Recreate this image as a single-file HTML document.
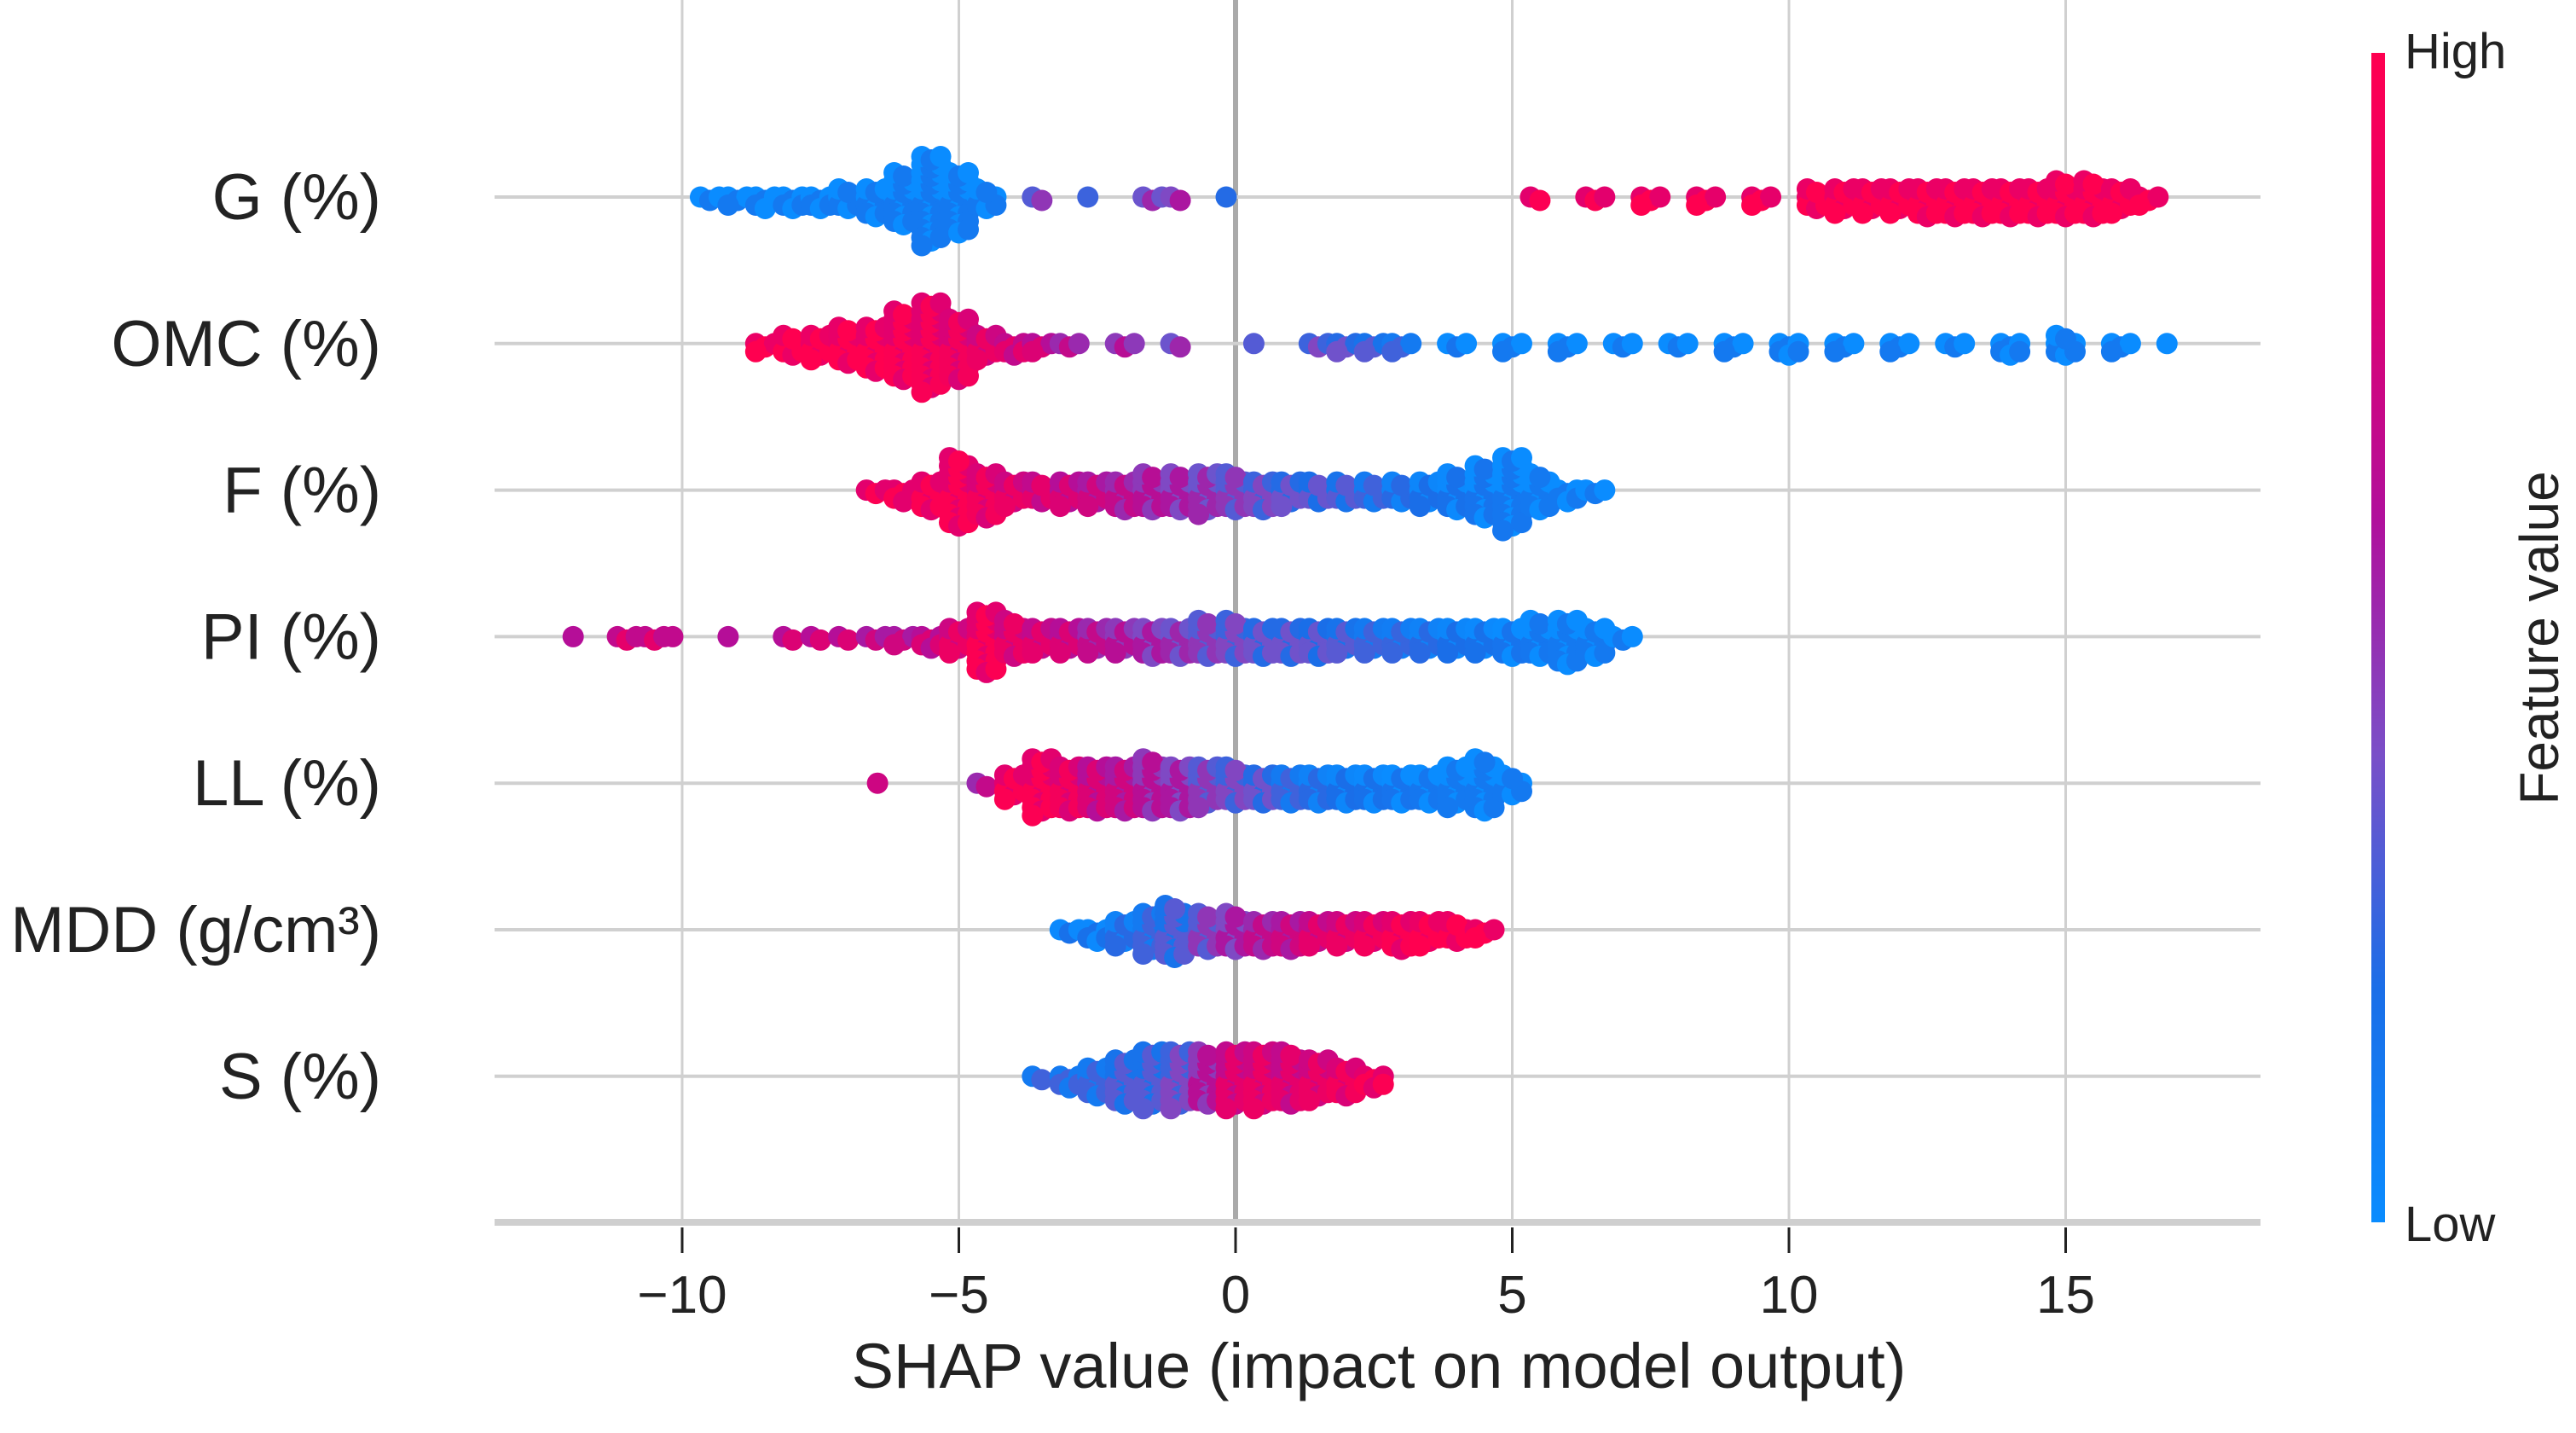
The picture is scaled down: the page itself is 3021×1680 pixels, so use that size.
<!DOCTYPE html>
<html><head><meta charset="utf-8"><style>
html,body{margin:0;padding:0;background:#fff;}
svg{display:block;font-family:"Liberation Sans",Arial,sans-serif;}
</style></head><body>
<svg id="chart" width="3021" height="1680" viewBox="0 0 3021 1680" xmlns="http://www.w3.org/2000/svg">
<defs><linearGradient id="cb" x1="0" y1="1" x2="0" y2="0">
<stop offset="0" stop-color="#0a8cff"/><stop offset="0.2" stop-color="#1a6ee8"/><stop offset="0.4" stop-color="#7a4fc8"/><stop offset="0.6" stop-color="#b0109c"/><stop offset="0.8" stop-color="#e00070"/><stop offset="1" stop-color="#ff0050"/></linearGradient></defs>
<g id="grid"></g>
<g id="dots"></g>
<g id="axes"></g>
<rect x="2781" y="62" width="16" height="1371" fill="url(#cb)"/>
<text x="2820" y="80" font-size="58" fill="#222">High</text>
<text x="2820" y="1455" font-size="58" fill="#222">Low</text>
<text transform="translate(3000,748) rotate(-90)" text-anchor="middle" font-size="64" fill="#222">Feature value</text>
<text x="1617" y="1627" text-anchor="middle" font-size="74" fill="#222">SHAP value (impact on model output)</text>
</svg>
<script>
const features = ["G (%)","OMC (%)","F (%)","PI (%)","LL (%)","MDD (g/cm³)","S (%)"];
const xTicks = [-10,-5,0,5,10,15];
// bins per feature: [shapValue, count, featureValue(0..1)]
const binsG = [[-9.5,3,0.05],[-9,4,0.05],[-8.5,5,0.05],[-8,6,0.05],[-7.5,6,0.05],[-7,8,0.05],[-6.5,12,0.05],[-6,20,0.05],[-5.5,34,0.05],[-5,24,0.05],[-4.5,8,0.05],[-3.5,2,0.4],[-2.5,1,0.35],[-1.5,3,0.45],[-1,2,0.5],[0,1,0.3],[5.5,2,0.9],[6.5,3,0.9],[7.5,4,0.92],[8.5,4,0.92],[9.5,4,0.92],[10.5,8,0.95],[11,10,0.95],[11.5,10,0.95],[12,10,0.95],[12.5,12,0.95],[13,12,0.95],[13.5,12,0.95],[14,12,0.95],[14.5,12,0.95],[15,14,0.95],[15.5,14,0.95],[16,10,0.95],[16.5,4,0.95]];
const binsOMC = [[-8.5,4,0.95],[-8,8,0.95],[-7.5,10,0.95],[-7,14,0.93],[-6.5,18,0.92],[-6,26,0.9],[-5.5,34,0.88],[-5,24,0.85],[-4.5,10,0.8],[-4,6,0.75],[-3.5,4,0.7],[-3,3,0.6],[-2,3,0.55],[-1,2,0.45],[0.5,1,0.4],[1.5,3,0.35],[2,4,0.3],[2.5,4,0.25],[3,4,0.2],[4,3,0.08],[5,4,0.05],[6,4,0.05],[7,3,0.05],[8,3,0.05],[9,4,0.05],[10,6,0.05],[11,4,0.05],[12,4,0.05],[13,3,0.05],[14,6,0.05],[15,8,0.05],[16,4,0.05],[17,1,0.05]];
const binsF = [[-6.5,3,0.9],[-6,5,0.9],[-5.5,12,0.9],[-5,26,0.9],[-4.5,18,0.85],[-4,10,0.8],[-3.5,8,0.75],[-3,10,0.7],[-2.5,10,0.65],[-2,12,0.6],[-1.5,14,0.55],[-1,14,0.5],[-0.5,16,0.45],[0,14,0.4],[0.5,12,0.35],[1,10,0.3],[1.5,8,0.28],[2,8,0.25],[2.5,8,0.2],[3,8,0.15],[3.5,10,0.12],[4,14,0.1],[4.5,20,0.08],[5,28,0.06],[5.5,14,0.05],[6,6,0.05],[6.5,3,0.05]];
const binsPI = [[-11.8,1,0.7],[-11,3,0.75],[-10.5,3,0.75],[-10,1,0.75],[-9,1,0.7],[-8,2,0.7],[-7.5,2,0.7],[-7,2,0.7],[-6.5,3,0.65],[-6,4,0.65],[-5.5,6,0.7],[-5,10,0.8],[-4.5,24,0.9],[-4,14,0.8],[-3.5,10,0.75],[-3,10,0.7],[-2.5,10,0.6],[-2,10,0.55],[-1.5,12,0.5],[-1,12,0.45],[-0.5,14,0.4],[0,14,0.35],[0.5,12,0.3],[1,12,0.3],[1.5,12,0.28],[2,10,0.25],[2.5,10,0.2],[3,10,0.18],[3.5,10,0.15],[4,10,0.12],[4.5,10,0.1],[5,12,0.08],[5.5,14,0.06],[6,18,0.05],[6.5,12,0.05],[7,3,0.05]];
const binsLL = [[-6.3,1,0.8],[-4.5,2,0.6],[-4,10,0.9],[-3.5,22,0.9],[-3,18,0.85],[-2.5,18,0.7],[-2,18,0.65],[-1.5,20,0.55],[-1,18,0.5],[-0.5,16,0.4],[0,14,0.35],[0.5,12,0.3],[1,12,0.2],[1.5,12,0.15],[2,12,0.12],[2.5,12,0.1],[3,12,0.08],[3.5,12,0.06],[4,16,0.05],[4.5,20,0.05],[5,8,0.05]];
const binsMDD = [[-3,3,0.1],[-2.5,6,0.1],[-2,10,0.15],[-1.5,16,0.2],[-1.1,20,0.25],[-0.5,14,0.4],[0,14,0.5],[0.5,12,0.6],[1,12,0.65],[1.5,10,0.75],[2,10,0.8],[2.5,10,0.85],[3,12,0.9],[3.5,10,0.95],[4,8,0.95],[4.5,4,0.95]];
const binsS = [[-3.5,2,0.2],[-3,6,0.2],[-2.5,12,0.2],[-2,18,0.25],[-1.5,22,0.25],[-1,22,0.35],[-0.5,20,0.55],[0,22,0.75],[0.5,22,0.8],[1,20,0.75],[1.5,16,0.8],[2,12,0.85],[2.5,6,0.9]];
const allBins = [binsG,binsOMC,binsF,binsPI,binsLL,binsMDD,binsS];

const NS="http://www.w3.org/2000/svg";
const X0=1449, PX=64.9, rowY0=231, rowStep=171.8, axisY=1433, plotL=580, plotR=2651;
const xs=v=>X0+v*PX, ys=i=>rowY0+i*rowStep;
const stops=[[0,[10,140,255]],[0.2,[26,110,232]],[0.4,[122,79,200]],[0.6,[176,16,156]],[0.8,[224,0,112]],[1,[255,0,80]]];
function cmap(t){t=Math.max(0,Math.min(1,t));for(let i=1;i<stops.length;i++){if(t<=stops[i][0]){const a=stops[i-1],b=stops[i],f=(t-a[0])/(b[0]-a[0]);return "rgb("+a[1].map((c,k)=>Math.round(c+(b[1][k]-c)*f)).join(",")+")";}}return "rgb(255,0,80)";}
function mk(tag,attrs,parent){const e=document.createElementNS(NS,tag);for(const k in attrs)e.setAttribute(k,attrs[k]);parent.appendChild(e);return e;}
const grid=document.getElementById('grid'),dots=document.getElementById('dots'),axes=document.getElementById('axes');
xTicks.forEach(t=>{
  const l=mk('line',{x1:xs(t),x2:xs(t),y1:0,y2:axisY,stroke:t===0?'#aaa':'#d0d0d0','stroke-width':t===0?6:3},grid);
  
  
  const tk=mk('line',{x1:xs(t),x2:xs(t),y1:axisY+6,y2:axisY+36,stroke:'#222','stroke-width':3},axes);
  
  
  const tx=mk('text',{x:xs(t),y:1539,'text-anchor':'middle','font-size':62,fill:'#222'},axes);
  tx.textContent=t<0?'\u2212'+(-t):String(t);
  
  
});
features.forEach((f,i)=>{
  const l=mk('line',{x1:plotL,x2:plotR,y1:ys(i),y2:ys(i),stroke:'#d0d0d0','stroke-width':4},grid);
  
  
  const tx=mk('text',{x:447,y:ys(i)+26,'text-anchor':'end','font-size':76,fill:'#222'},axes);
  tx.textContent=f;
  
  
});
const ax=mk('line',{x1:plotL,x2:plotR,y1:axisY,y2:axisY,stroke:'#cfcfcf','stroke-width':8},axes);


const offs=[-11,0,11];
allBins.forEach((bins,i)=>{
  bins.forEach(b=>{
    const [v,n,c]=b;
    for(let j=0;j<n;j++){
      const col=j%3, k=Math.floor(j/3);
      const dy=((k+1)>>1)*(k%2?1:-1)*9.5 + (col===1?4:0);
      const cc=c+((j%2)?0.08:-0.08);
      const d=mk('circle',{cx:xs(v)+offs[col],cy:ys(i)+dy,r:12.5,fill:cmap(cc)},dots);
      
      
    }
  });
});
</script>
</body></html>
